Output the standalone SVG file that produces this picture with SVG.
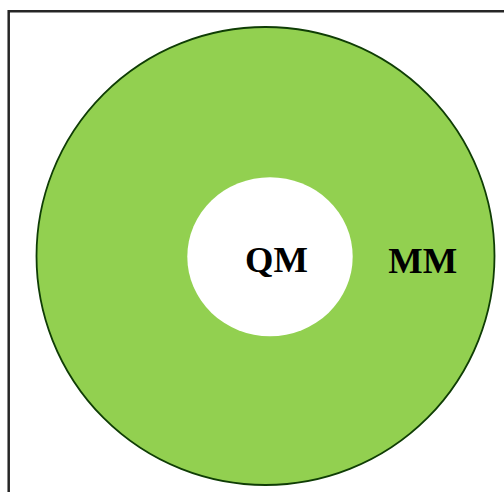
<svg xmlns="http://www.w3.org/2000/svg" width="504" height="492" viewBox="0 0 504 492">
<style>
.lbl{font-family:"Liberation Serif","Times New Roman",serif;font-weight:bold;font-size:36.5px;fill:#000}
.frame{fill:none;stroke:#262626;stroke-width:2.5}
</style>
<rect width="504" height="492" fill="#fff"/>
<g id="frame">
<path class="frame" d="M8.7,492 V11.3 H504"/>
</g>
<g id="MM">
<circle cx="265.5" cy="256" r="229" fill="#92d050" stroke="#0f3d05" stroke-width="1.8"/>
<text class="lbl" x="388.3" y="272.5">MM</text>
</g>
<g id="QM">
<ellipse cx="270" cy="256.7" rx="82.7" ry="79.5" fill="#fff"/>
<text class="lbl" x="245" y="271.5">QM</text>
</g>
</svg>
